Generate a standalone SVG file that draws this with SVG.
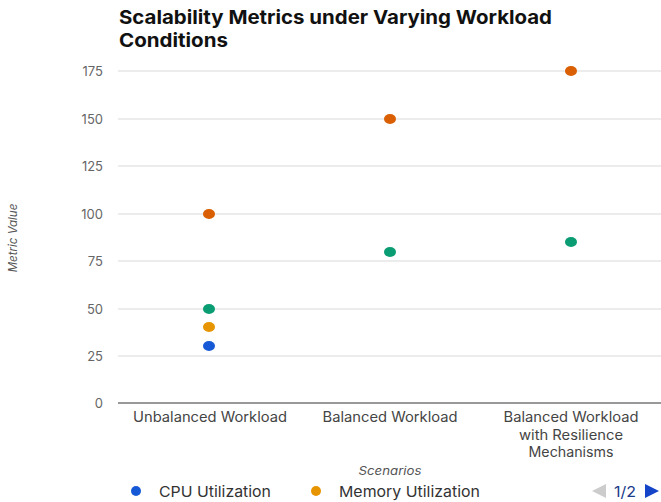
<svg xmlns="http://www.w3.org/2000/svg" width="661" height="502" viewBox="0 0 661 502">
<style>
.title{font-family:Inter,"Open Sans","Liberation Sans",sans-serif;font-weight:700;font-size:19px;fill:#111}
.tick{font-family:Inter,"Open Sans","Liberation Sans",sans-serif;font-size:13px;fill:#666;text-anchor:end}
.cat{font-family:Inter,"Open Sans","Liberation Sans",sans-serif;font-size:14px;fill:#444;text-anchor:middle}
.axt{font-family:Inter,"Open Sans","Liberation Sans",sans-serif;font-size:11.5px;font-style:italic;fill:#555;text-anchor:middle}
.leg{font-family:Inter,"Open Sans","Liberation Sans",sans-serif;font-size:15px;fill:#333}
.grid{stroke:#d9d9d9;stroke-width:1}
.cpu{fill:#1659d6}.mem{fill:#e69500}.net{fill:#0a9c72}.disk{fill:#d95f02}
</style>
<rect width="661" height="502" fill="#fff"/>
<g id="title">
<text class="title" x="119" y="24" textLength="433" lengthAdjust="spacingAndGlyphs">Scalability Metrics under Varying Workload</text>
<text class="title" x="119" y="47" textLength="109" lengthAdjust="spacingAndGlyphs">Conditions</text>
</g>
<g id="y-axis">
<line class="grid" x1="118" y1="71" x2="661" y2="71"/>
<line class="grid" x1="118" y1="119" x2="661" y2="119"/>
<line class="grid" x1="118" y1="166" x2="661" y2="166"/>
<line class="grid" x1="118" y1="214" x2="661" y2="214"/>
<line class="grid" x1="118" y1="261" x2="661" y2="261"/>
<line class="grid" x1="118" y1="309" x2="661" y2="309"/>
<line class="grid" x1="118" y1="356" x2="661" y2="356"/>
<line x1="118" y1="403" x2="661" y2="403" stroke="#333" stroke-width="1"/>
<text class="tick" x="103" y="76">175</text>
<text class="tick" x="103" y="124">150</text>
<text class="tick" x="103" y="171">125</text>
<text class="tick" x="103" y="219">100</text>
<text class="tick" x="103" y="266">75</text>
<text class="tick" x="103" y="314">50</text>
<text class="tick" x="103" y="361">25</text>
<text class="tick" x="103" y="408">0</text>
<text class="axt" transform="translate(17,238) rotate(-90)">Metric Value</text>
</g>
<g id="x-axis">
<text class="cat" x="210" y="422" textLength="154" lengthAdjust="spacingAndGlyphs">Unbalanced Workload</text>
<text class="cat" x="390" y="422" textLength="135" lengthAdjust="spacingAndGlyphs">Balanced Workload</text>
<text class="cat" x="571" y="422" textLength="135" lengthAdjust="spacingAndGlyphs">Balanced Workload</text>
<text class="cat" x="571" y="440" textLength="104" lengthAdjust="spacingAndGlyphs">with Resilience</text>
<text class="cat" x="571" y="457" textLength="85" lengthAdjust="spacingAndGlyphs">Mechanisms</text>
<text class="axt" x="390" y="475" textLength="63" lengthAdjust="spacingAndGlyphs">Scenarios</text>
</g>
<g id="points">
<ellipse class="disk" cx="209" cy="214" rx="6" ry="5"/>
<ellipse class="net" cx="209" cy="309" rx="6" ry="5"/>
<ellipse class="mem" cx="209" cy="327" rx="6" ry="5"/>
<ellipse class="cpu" cx="209" cy="346" rx="6" ry="5"/>
<ellipse class="disk" cx="390" cy="119" rx="6" ry="5"/>
<ellipse class="net" cx="390" cy="252" rx="6" ry="5"/>
<ellipse class="disk" cx="571" cy="71" rx="6" ry="5"/>
<ellipse class="net" cx="571" cy="242" rx="6" ry="5"/>
</g>
<g id="legend">
<circle class="cpu" cx="136" cy="491" r="5"/>
<text class="leg" x="159" y="497" textLength="112" lengthAdjust="spacingAndGlyphs">CPU Utilization</text>
<circle class="mem" cx="316" cy="491" r="5"/>
<text class="leg" x="339" y="497" textLength="141" lengthAdjust="spacingAndGlyphs">Memory Utilization</text>
<polygon points="606,484 606,498 592,491" fill="#ccc"/>
<text class="leg" x="614" y="497" style="fill:#1a3a8a" textLength="22" lengthAdjust="spacingAndGlyphs">1/2</text>
<polygon points="645,484 645,498 659,491" fill="#1445c8"/>
</g>
</svg>
